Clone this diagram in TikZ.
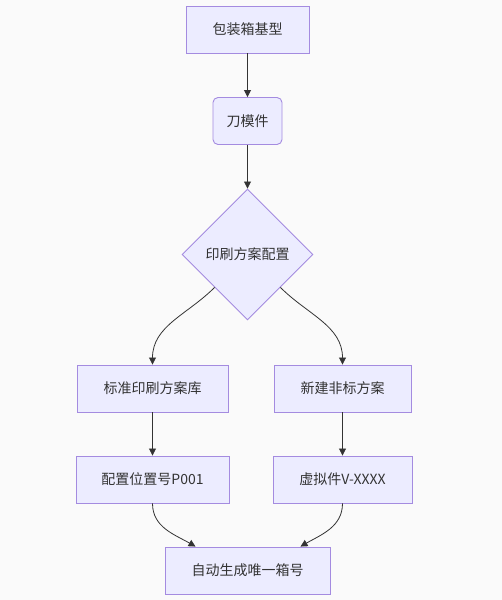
\documentclass[tikz,border=0pt]{standalone}
\usepackage{fontspec}
\newfontfamily\cjk{Noto Sans CJK SC}
\usetikzlibrary{arrows.meta,shapes.geometric}
\definecolor{boxfill}{HTML}{ECECFF}
\definecolor{boxline}{HTML}{A48BE0}
\definecolor{ink}{HTML}{333333}
\definecolor{paper}{HTML}{FAFAFA}

\begin{document}
\begin{tikzpicture}[x=1pt, y=-1pt,
    box/.style={rectangle, draw=boxline, fill=boxfill, line width=0.9pt,
      minimum height=47pt, text=ink, font=\cjk\fontsize{14pt}{16pt}\selectfont},
    choice/.style={diamond, draw=boxline, fill=boxfill, line width=0.9pt,
      shape aspect=1, minimum size=131pt, inner sep=0pt, text=ink,
      font=\cjk\fontsize{14pt}{16pt}\selectfont},
    flow/.style={draw=ink, line width=0.8pt, -{Triangle[length=7pt, width=7pt]}}]
    \useasboundingbox[fill=paper] (0,0) rectangle (502,600);

    \node[box, minimum width=123pt] (base) at (247.5, 29.5) {包装箱基型};
    \node[box, minimum width=69pt, rounded corners=5pt] (die) at (247.5, 121) {刀模件};
    \node[choice] (print) at (247.5, 254.5) {印刷方案配置};
    \node[box, minimum width=151pt] (std) at (152.5, 388.5) {标准印刷方案库};
    \node[box, minimum width=137pt] (new) at (342.5, 388.5) {新建非标方案};
    \node[box, minimum width=153pt] (pos) at (152.5, 479.5) {配置位置号P001};
    \node[box, minimum width=139pt] (virt) at (342.5, 479.5) {虚拟件V-XXXX};
    \node[box, minimum width=165pt] (code) at (247.5, 570.5) {自动生成唯一箱号};

    % 矢印
    \draw[flow] (base) -- (die);
    \draw[flow] (die) -- (print);
    \draw[flow] (print.south west) to[out=-135, in=90] (std.north);
    \draw[flow] (print.south east) to[out=-45, in=90] (new.north);
    \draw[flow] (std) -- (pos);
    \draw[flow] (new) -- (virt);
    \draw[flow] (pos.south) to[out=-90, in=150] ([xshift=-52pt]code.north);
    \draw[flow] (virt.south) to[out=-90, in=30] ([xshift=53pt]code.north);

\end{tikzpicture}
\end{document}
